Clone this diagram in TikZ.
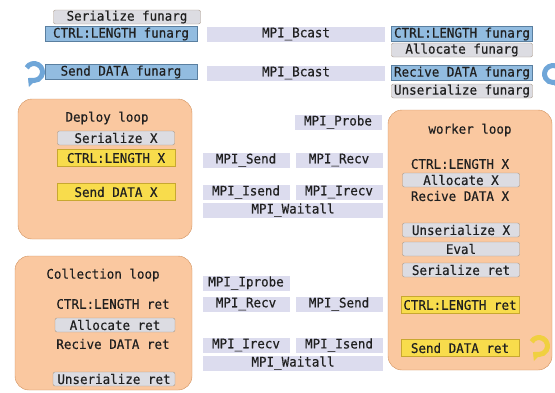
\documentclass[tikz,border=0pt]{standalone}
\usepackage{fontspec}
\setmainfont[FakeBold=0.5,FakeStretch=0.95]{DejaVu Sans Mono}
\usetikzlibrary{arrows.meta}
\definecolor{fnblue}{HTML}{92BCE0}
\definecolor{fnblueline}{HTML}{5A7FA0}
\definecolor{grayfill}{HTML}{DCDCE2}
\definecolor{grayline}{HTML}{A89888}
\definecolor{yfill}{HTML}{F8DC4C}
\definecolor{yline}{HTML}{C8A830}
\definecolor{mpibar}{HTML}{DCDCEE}
\definecolor{loopfill}{HTML}{FAC8A0}
\definecolor{loopline}{HTML}{D0905C}
\definecolor{txt}{HTML}{202020}
\definecolor{iconblue}{HTML}{6FA6D8}
\definecolor{iconyellow}{HTML}{F0D040}

\begin{document}
\begin{tikzpicture}[
		x=1pt, y=-1pt,
		every node/.style={font=\fontsize{13.2}{14}\selectfont, text=txt, inner sep=0pt},
		F/.style = {fill=fnblue, draw=fnblueline, minimum width=#1, minimum height=15},% function argument boxes
		F/.default=152,
		G/.style = {fill=grayfill, draw=grayline, rounded corners=2pt,
			minimum width=#1, minimum height=14},
		G/.default=117,
		Y/.style = {fill=yfill, draw=yline, minimum width=118, minimum height=17},
		M/.style = {fill=mpibar, minimum width=#1, minimum height=15},% MPI calls
		M/.default=87,
		L/.style = {fill=loopfill, draw=loopline, rounded corners=14pt},
		loopicon/.pic = {\draw[line width=5pt, -{Triangle[length=7pt, width=11pt]}, #1]
			(150:8.5pt) arc[start angle=150, end angle=-135, radius=8.5pt];},
		]
		\useasboundingbox (0,0) rectangle (555,392);
		% loops
		\node[L, minimum width=174, minimum height=140] (deploy) at (105,169) {};
		\node[L, minimum width=164, minimum height=260] (worker) at (470,240) {};
		\node[L, minimum width=177, minimum height=134] (collect) at (103.5,323) {};
		% funarg broadcast
		\node[G=147] (serF) at (127,17) {Serialize funarg};
		\node[F] (ctrlF) at (121,34) {CTRL:LENGTH funarg};
		\node[F] (sendF) at (121,72) {Send DATA funarg};
		\node[M=178] (bc1) at (296,34) {MPI\_Bcast};
		\node[M=178] (bc2) at (296,73) {MPI\_Bcast};
		\node[F=141] (ctrlFw) at (462,34) {CTRL:LENGTH funarg};
		\node[G=141] (allocF) at (462,50) {Allocate funarg};
		\node[F=141] (recvF) at (462,73) {Recive DATA funarg};
		\node[G=141] (unserF) at (462,91) {Unserialize funarg};
		\pic at (34,72) {loopicon=iconblue};
		\pic[xscale=-1] at (553,74) {loopicon=iconblue};
		% deploy loop
		\node (deployT) at (107,118) {Deploy loop};
		\node[G] (serX) at (116,138) {Serialize X};
		\node[Y] (ctrlX) at (116,158) {CTRL:LENGTH X};
		\node[Y] (sendX) at (116,192) {Send DATA X};
		% MPI calls, deploy side
		\node[M] (probe) at (338,122) {MPI\_Probe};
		\node[M] (send1) at (246,160) {MPI\_Send};
		\node[M] (recv1) at (339,160) {MPI\_Recv};
		\node[M] (isend1) at (246,192) {MPI\_Isend};
		\node[M] (irecv1) at (339,192) {MPI\_Irecv};
		\node[M=180] (wait1) at (293,210) {MPI\_Waitall};
		% worker loop
		\node (workerT) at (470,130) {worker loop};
		\node (ctrlXw) at (460,164) {CTRL:LENGTH X};
		\node[G] (allocX) at (461,180) {Allocate X};
		\node (recvX) at (460,196) {Recive DATA X};
		\node[G] (unserX) at (461,230) {Unserialize X};
		\node[G] (eval) at (461,249) {Eval};
		\node[G] (serR) at (461,270) {Serialize ret};
		\node[Y] (ctrlR) at (460,305) {CTRL:LENGTH ret};
		\node[Y] (sendR) at (460,348) {Send DATA ret};
		\pic at (539,346) {loopicon=iconyellow};
		% collection loop
		\node (collectT) at (103,275) {Collection loop};
		\node (ctrlRc) at (113,304) {CTRL:LENGTH ret};
		\node[G=120] (allocR) at (115,325) {Allocate ret};
		\node (recvR) at (113,344) {Recive DATA ret};
		\node[G=122] (unserR) at (114,379) {Unserialize ret};
		% MPI calls, collection side
		\node[M] (iprobe) at (246,283) {MPI\_Iprobe};
		\node[M] (recv2) at (246,304) {MPI\_Recv};
		\node[M] (send2) at (339,304) {MPI\_Send};
		\node[M] (irecv2) at (246,345) {MPI\_Irecv};
		\node[M] (isend2) at (339,345) {MPI\_Isend};
		\node[M=180] (wait2) at (293,363) {MPI\_Waitall};
	\end{tikzpicture}
\end{document}
